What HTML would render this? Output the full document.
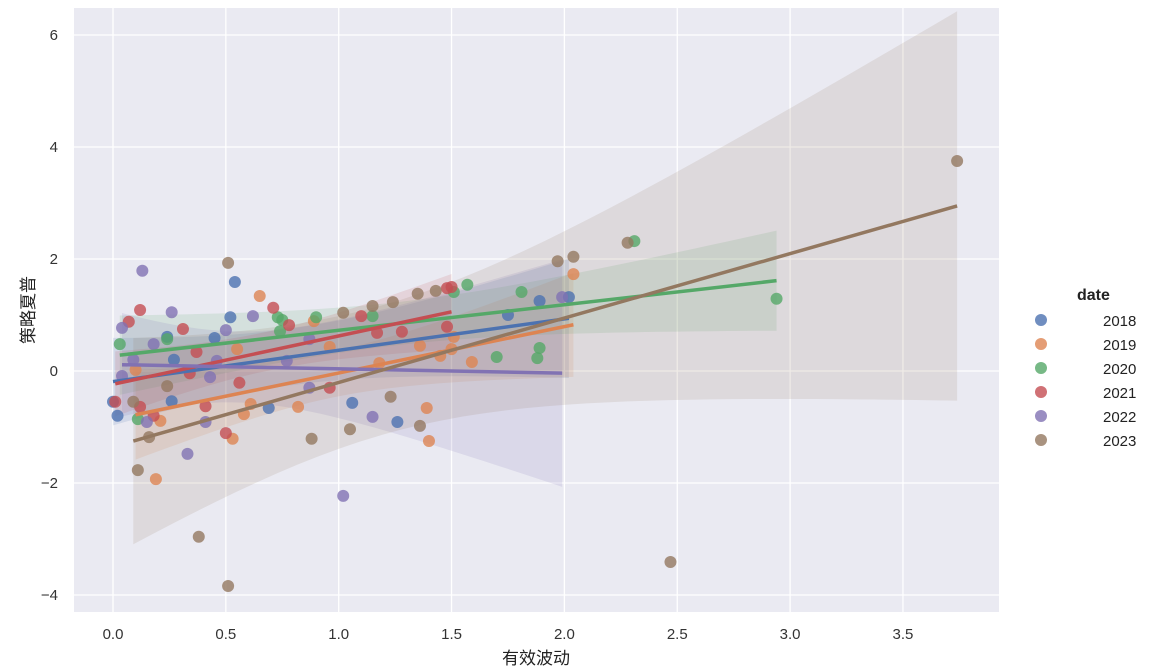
<!DOCTYPE html>
<html><head><meta charset="utf-8"><style>
body{margin:0;background:#fff;}
svg{display:block;font-family:"Liberation Sans","Noto Sans CJK SC",sans-serif;}
</style></head><body>
<svg id="chart" width="1155" height="672" viewBox="0 0 1155 672"><defs><clipPath id="clip"><rect x="74" y="8" width="925" height="604"/></clipPath></defs></svg>
<script>
const years=["2018","2019","2020","2021","2022","2023"];
const colors=["#4c72b0","#dd8452","#55a868","#c44e52","#8172b3","#937860"];
const x2018=[0.0,0.02,0.54,0.52,0.45,0.24,0.27,0.26,0.69,1.06,1.26,1.75,1.89,2.02];
const y2018=[-0.55,-0.8,1.59,0.96,0.59,0.61,0.2,-0.54,-0.66,-0.57,-0.91,1.0,1.25,1.32];
const x2019=[0.65,0.55,0.10,0.61,0.58,0.82,0.21,0.19,0.53,0.89,0.96,2.04,1.51,1.36,1.50,1.45,1.59,1.39,1.40,1.18];
const y2019=[1.34,0.39,0.02,-0.59,-0.77,-0.64,-0.89,-1.93,-1.21,0.89,0.43,1.73,0.61,0.45,0.39,0.27,0.16,-0.66,-1.25,0.14];
const x2020=[0.03,0.11,0.24,0.73,0.75,0.74,0.90,1.57,1.51,1.15,1.81,1.70,1.89,1.88,2.31,2.94];
const y2020=[0.48,-0.86,0.57,0.96,0.91,0.71,0.96,1.54,1.41,0.98,1.41,0.25,0.41,0.23,2.32,1.29];
const x2021=[0.12,0.07,0.31,0.37,0.34,0.01,0.12,0.18,0.41,0.50,0.56,0.71,0.78,0.96,1.48,1.50,1.10,1.17,1.28,1.48];
const y2021=[1.09,0.88,0.75,0.34,-0.04,-0.55,-0.64,-0.8,-0.63,-1.11,-0.21,1.13,0.82,-0.30,1.48,1.5,0.98,0.68,0.7,0.79];
const x2022=[0.13,0.26,0.62,0.50,0.04,0.18,0.04,0.43,0.46,0.15,0.41,0.33,0.87,0.77,0.87,1.02,0.09,1.15,1.99];
const y2022=[1.79,1.05,0.98,0.73,0.77,0.48,-0.09,-0.11,0.18,-0.91,-0.91,-1.48,-0.30,0.18,0.57,-2.23,0.2,-0.82,1.32];
const x2023=[0.51,1.02,0.24,0.09,0.11,0.16,0.88,1.05,1.15,1.24,1.35,1.43,1.97,2.04,1.23,1.36,3.74,2.28,2.47,0.51,0.38];
const y2023=[1.93,1.04,-0.27,-0.55,-1.77,-1.18,-1.21,-1.04,1.16,1.23,1.38,1.43,1.96,2.04,-0.46,-0.98,3.75,2.29,-3.41,-3.84,-2.96];
const xs=[x2018,x2019,x2020,x2021,x2022,x2023];
const ys=[y2018,y2019,y2020,y2021,y2022,y2023];
const xTicks=[0,0.5,1,1.5,2,2.5,3,3.5];
const yTicks=[-4,-2,0,2,4,6];
const bandScale=[1.1,1.1,1.2,1.1,1.3,1.45];

const NS="http://www.w3.org/2000/svg";
const svg=document.getElementById('chart');
const L=74,R=999,T=8,B=612;
const X=v=>113+v*225.7;
const Y=v=>371-v*56;
function mk(t,a,p){const e=document.createElementNS(NS,t);for(const k in a)e.setAttribute(k,a[k]);(p||svg).appendChild(e);return e;}

const bg=mk('rect',{x:L,y:T,width:R-L,height:B-T,fill:'#eaeaf2'});


xTicks.forEach(v=>{
  const g=mk('line',{x1:X(v),x2:X(v),y1:T,y2:B,stroke:'#fff','stroke-width':1.3});
  
  
  const t=mk('text',{x:X(v),y:639,'text-anchor':'middle','font-size':15,fill:'#333'});
  t.textContent=v.toFixed(1);
  
  
});
yTicks.forEach(v=>{
  const g=mk('line',{x1:L,x2:R,y1:Y(v),y2:Y(v),stroke:'#fff','stroke-width':1.3});
  
  
  const t=mk('text',{x:58,y:Y(v)+5,'text-anchor':'end','font-size':15,fill:'#333'});
  t.textContent=(v<0?'\u2212'+(-v):String(v));
  
  
});
const xt=mk('text',{x:536,y:664,'text-anchor':'middle','font-size':17,fill:'#222'});
xt.textContent='有效波动';


const yt=mk('text',{x:0,y:0,'text-anchor':'middle','font-size':17,fill:'#222',transform:'translate(34,310) rotate(-90)'});
yt.textContent='策略夏普';



function fit(xa,ya){
  const n=xa.length,mx=xa.reduce((a,b)=>a+b)/n,my=ya.reduce((a,b)=>a+b)/n;
  let sxx=0,sxy=0;for(let i=0;i<n;i++){sxx+=(xa[i]-mx)**2;sxy+=(xa[i]-mx)*(ya[i]-my);}
  const b=sxy/sxx,a=my-b*mx;let sse=0;for(let i=0;i<n;i++)sse+=(ya[i]-a-b*xa[i])**2;
  const s=Math.sqrt(sse/(n-2));return {a,b,s,n,mx,sxx};
}
const bandG=mk('g',{'clip-path':'url(#clip)'});


const ptG=mk('g',{});


const lineG=mk('g',{});


years.forEach((yr,k)=>{
  const xa=xs[k],ya=ys[k],f=fit(xa,ya);
  const x0=Math.min(...xa),x1=Math.max(...xa);
  let up=[],lo=[];
  for(let i=0;i<=40;i++){const xv=x0+(x1-x0)*i/40;const yv=f.a+f.b*xv;
    const se=f.s*Math.sqrt(1/f.n+(xv-f.mx)**2/f.sxx)*2.05*bandScale[k];
    up.push(X(xv)+','+Y(yv+se));lo.unshift(X(xv)+','+Y(yv-se));}
  const band=mk('polygon',{points:up.concat(lo).join(' '),fill:colors[k],'fill-opacity':0.15},bandG);
  
  
  xa.forEach((xv,i)=>{
    const c=mk('circle',{cx:X(xv),cy:Y(ya[i]),r:6,fill:colors[k],'fill-opacity':0.8},ptG);
    
    
  });
  const ln=mk('line',{x1:X(x0),y1:Y(f.a+f.b*x0),x2:X(x1),y2:Y(f.a+f.b*x1),stroke:colors[k],'stroke-width':3.5},lineG);
  
  
  const lc=mk('circle',{cx:1041,cy:320+24*k,r:6,fill:colors[k],'fill-opacity':0.8});
  
  
  const lt=mk('text',{x:1103,y:326+24*k,'font-size':15,fill:'#222'});
  lt.textContent=yr;
  
  
});
const lg=mk('text',{x:1077,y:300,'font-size':16,'font-weight':'bold',fill:'#222'});
lg.textContent='date';


</script>
</body></html>
